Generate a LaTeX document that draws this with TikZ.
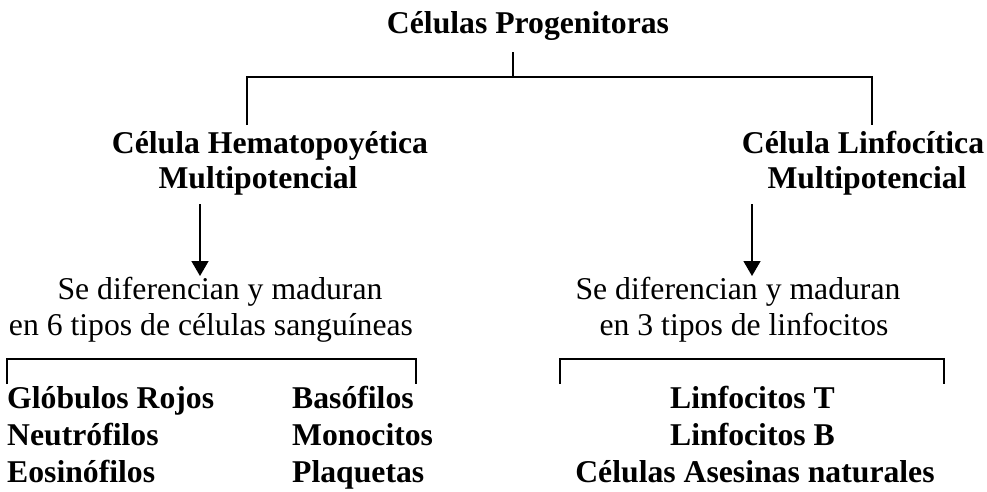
\documentclass[tikz,border=0pt]{standalone}
\usepackage{fontspec}
\setmainfont{Liberation Serif}
\usetikzlibrary{arrows.meta}
\begin{document}
\begin{tikzpicture}[x=1pt,y=-1pt,
  lbl/.style={inner sep=0pt,font=\fontsize{31.7}{36}\selectfont},
  bld/.style={lbl,font=\fontsize{31.7}{36}\selectfont\bfseries},
  conn/.style={line width=1.5pt},
  arr/.style={line width=1.5pt,-{Triangle[width=17pt,length=15pt]}}]
\useasboundingbox (0,0) rectangle (987,491);
% titles
\node[bld,anchor=base] (prog) at (528,33) {Células Progenitoras};
\node[bld,anchor=base] (hem1) at (270,153) {Célula Hematopoyética};
\node[bld,anchor=base] (hem2) at (258,188) {Multipotencial};
\node[bld,anchor=base] (lin1) at (863,153) {Célula Linfocítica};
\node[bld,anchor=base] (lin2) at (867,188) {Multipotencial};
% descriptions
\node[lbl,anchor=base] (dl1) at (220,299) {Se diferencian y maduran};
\node[lbl,anchor=base] (dl2) at (211,335) {en 6 tipos de células sanguíneas};
\node[lbl,anchor=base] (dr1) at (738,299) {Se diferencian y maduran};
\node[lbl,anchor=base] (dr2) at (744,335) {en 3 tipos de linfocitos};
% cell types left
\node[bld,anchor=base west] (gr) at (7,408) {Glóbulos Rojos};
\node[bld,anchor=base west] (ne) at (7,445) {Neutrófilos};
\node[bld,anchor=base west] (eo) at (7,482) {Eosinófilos};
\node[bld,anchor=base west] (ba) at (292,408) {Basófilos};
\node[bld,anchor=base west] (mo) at (292,445) {Monocitos};
\node[bld,anchor=base west] (pl) at (292,482) {Plaquetas};
% cell types right
\node[bld,anchor=base] (lt) at (752.5,408) {Linfocitos T};
\node[bld,anchor=base] (lb) at (752.5,445) {Linfocitos B};
\node[bld,anchor=base] (na) at (755,482) {Células Asesinas naturales};
% connector points
\coordinate (progbot) at (513,52);
\coordinate (junc) at (513,77);
\coordinate (hemtop) at (247,125);
\coordinate (lintop) at (872,125);
\coordinate (harrs) at (200,204);
\coordinate (harre) at (200,276);
\coordinate (larrs) at (752,204);
\coordinate (larre) at (752,276);
\coordinate (bl1) at (7,384);
\coordinate (bl2) at (416,384);
\coordinate (br1) at (560,384);
\coordinate (br2) at (944,384);
% connectors
\draw[conn] (progbot) -- (junc);
\draw[conn] (hemtop) |- (junc) -| (lintop);
\draw[arr] (harrs) -- (harre);
\draw[arr] (larrs) -- (larre);
\draw[conn] (bl1) -- ++(0,-25) -| (bl2);
\draw[conn] (br1) -- ++(0,-25) -| (br2);
\end{tikzpicture}
\end{document}
